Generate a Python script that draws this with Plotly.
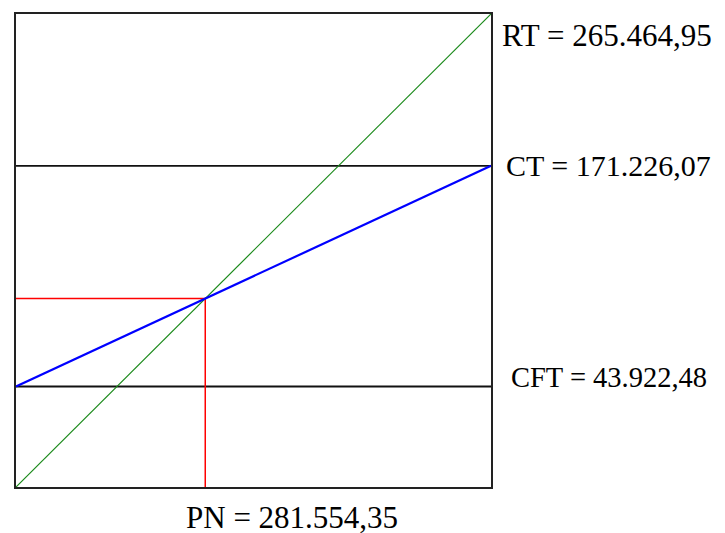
import plotly.graph_objects as go

# Schematic break-even chart (normalised units)
quantity = [0.0, 1.0]
revenue_total = [0.0, 1.0]          # RT line (green)
fixed_cost_level = 0.2126           # CFT
total_cost = [0.2126, 0.679]        # CT line (blue)
ct_level = 0.679                    # horizontal CT reference

label_names = ["RT", "CT", "CFT", "PN"]
label_values = ["265.464,95", "171.226,07", "43.922,48", "281.554,35"]

# break-even point (intersection of RT and CT)
slope_ct = (total_cost[1] - total_cost[0]) / (quantity[1] - quantity[0])
be_x = total_cost[0] / (1.0 - slope_ct)
be_y = be_x

fig = go.Figure()
fig.add_trace(go.Scatter(x=quantity, y=[fixed_cost_level] * 2, mode="lines",
                         line=dict(color="#111111", width=2), hoverinfo="skip"))
fig.add_trace(go.Scatter(x=quantity, y=[ct_level] * 2, mode="lines",
                         line=dict(color="#111111", width=1.6), hoverinfo="skip"))
fig.add_trace(go.Scatter(x=[0, be_x, be_x], y=[be_y, be_y, 0], mode="lines",
                         line=dict(color="#ff0000", width=1.5), hoverinfo="skip"))
fig.add_trace(go.Scatter(x=quantity, y=revenue_total, mode="lines",
                         line=dict(color="#1a8a1a", width=1.2), hoverinfo="skip"))
fig.add_trace(go.Scatter(x=quantity, y=total_cost, mode="lines",
                         line=dict(color="#0000ff", width=2.2), hoverinfo="skip"))

fam = "Liberation Serif, Times New Roman, serif"
anns = [
    dict(x=1, y=revenue_total[1], xref="x", yref="y", xanchor="left", yanchor="middle",
         xshift=9, yshift=-21, text=f"{label_names[0]} = {label_values[0]}",
         font=dict(family=fam, size=31, color="black")),
    dict(x=1, y=ct_level, xref="x", yref="y", xanchor="left", yanchor="middle",
         xshift=13, yshift=0, text=f"{label_names[1]} = {label_values[1]}",
         font=dict(family=fam, size=30, color="black")),
    dict(x=1, y=fixed_cost_level, xref="x", yref="y", xanchor="left", yanchor="middle",
         xshift=18, yshift=9, text=f"{label_names[2]} = {label_values[2]}",
         font=dict(family=fam, size=28.5, color="black")),
    dict(x=be_x, y=0, xref="x", yref="y", xanchor="left", yanchor="middle",
         xshift=-21, yshift=-30, text=f"{label_names[3]} = {label_values[3]}",
         font=dict(family=fam, size=31, color="black")),
]
for a in anns:
    a.update(showarrow=False)

axis = dict(range=[0, 1], showgrid=False, zeroline=False, showticklabels=False,
            ticks="", showline=True, linecolor="#222222", linewidth=2, mirror=True,
            fixedrange=True)
fig.update_layout(
    width=717, height=525,
    margin=dict(l=8, r=234, t=4, b=46),
    paper_bgcolor="white", plot_bgcolor="white",
    showlegend=False,
    xaxis=axis, yaxis=axis,
    annotations=anns,
)
fig.write_html("out.html")
